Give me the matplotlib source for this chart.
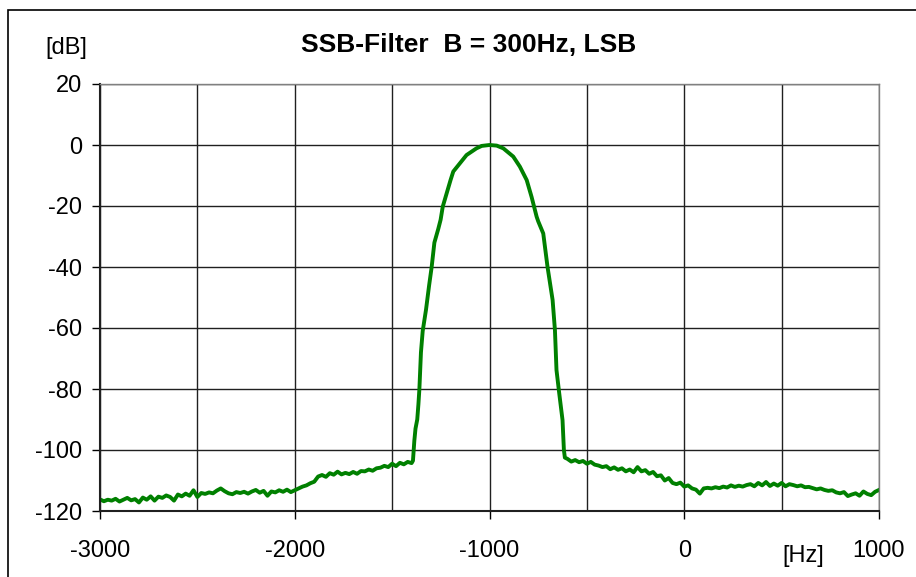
import numpy as np
import matplotlib.pyplot as plt
from matplotlib.patches import Rectangle

plt.rcParams['font.family'] = ['Liberation Sans', 'DejaVu Sans']
plt.rcParams['axes.unicode_minus'] = False

# Rauschboden links (Schritt 20 Hz, -3000 .. -1400)
freq_links = np.arange(-3000, -1399, 20)
pegel_links = [
    -116.2, -116.8, -116.3, -116.6, -116.0, -116.9, -116.3, -115.7, -116.5, -116.1,
    -117.2, -115.6, -116.3, -115.2, -116.6, -115.3, -115.7, -114.9, -115.4, -116.6,
    -114.6, -115.2, -114.3, -115.0, -113.2, -115.4, -114.1, -114.4, -113.9, -114.2,
    -113.3, -112.6, -113.5, -114.2, -114.5, -113.8, -114.1, -113.7, -114.3, -113.6,
    -113.1, -114.0, -113.4, -115.0, -113.6, -113.9, -113.2, -113.7, -113.0, -113.8,
    -113.2, -112.6, -112.0, -111.6, -110.9, -110.4, -108.7, -108.2, -108.8, -107.6,
    -108.1, -107.1, -108.0, -107.5, -107.9, -107.2, -107.8, -106.9, -107.0, -106.4,
    -106.8, -106.0, -105.8, -105.2, -105.6, -104.5, -105.3, -104.2, -104.7, -103.9,
    -104.3,
]

# Durchlassbereich
freq_filter = [-1393, -1390, -1386, -1380, -1371, -1365, -1360, -1352, -1343, -1326,
               -1310, -1297, -1283, -1263, -1251, -1240, -1220, -1200, -1186, -1152,
               -1118, -1067, -1040, -1000, -963, -929, -878, -844, -809, -784,
               -758, -750, -724, -702, -676, -664, -656, -642, -625, -618, -613]
pegel_filter = [-103.5, -100.5, -97, -93, -90, -85, -80, -68, -61, -54,
                -46, -40, -32, -27.5, -24.5, -20.2, -15.8, -11.5, -8.7, -6,
                -3.3, -1.1, -0.3, 0, -0.2, -1.1, -3.8, -7.1, -11.5, -17,
                -23.5, -25, -29, -40, -50.8, -60.7, -73.8, -81.4, -90.2, -100, -102.5]

# Rauschboden rechts (Schritt 20 Hz, -600 .. 1000)
freq_rechts = np.arange(-600, 1001, 20)
pegel_rechts = [
    -102.9, -103.8, -103.3, -104.0, -103.6, -104.5, -103.9, -104.8, -105.1, -105.6,
    -105.3, -106.3, -105.7, -106.5, -106.0, -107.0, -106.4, -107.3, -105.6, -107.0,
    -106.6, -107.8, -107.2, -108.6, -108.3, -110.0, -109.2, -110.8, -111.2, -110.7,
    -112.0, -111.6, -112.6, -113.0, -114.3, -112.6, -112.4, -112.6, -112.2, -112.5,
    -112.0, -112.3, -111.6, -112.1, -111.7, -112.0, -111.5, -111.2, -111.9, -110.8,
    -111.6, -110.5, -111.8, -111.0, -111.7, -110.8, -111.9, -111.2, -111.5, -111.9,
    -111.6, -112.2, -112.1, -112.5, -112.9, -112.6, -113.1, -113.4, -113.2, -113.9,
    -114.2, -113.8, -115.1, -114.6, -114.2, -115.0, -113.6, -114.4, -114.8, -113.7,
    -113.1,
]

freq = np.concatenate([freq_links, freq_filter, freq_rechts])
pegel = np.concatenate([pegel_links, pegel_filter, pegel_rechts])

W, H = 916, 577
fig = plt.figure(figsize=(W / 100, H / 100), dpi=100)
ax = fig.add_axes([100 / W, 1 - 511 / H, 779 / W, 427 / H])

ax.plot(freq, pegel, color='#008000', lw=2.8, solid_joinstyle='round')

ax.set_xlim(-3000, 1000)
ax.set_ylim(-120, 20)
ax.set_xticks(np.arange(-3000, 1001, 1000))
ax.set_xticks(np.arange(-3000, 1001, 500), minor=True)
ax.set_yticks(np.arange(-120, 21, 20))
ax.grid(True, which='both', axis='x', color='#202020', lw=1)
ax.grid(True, which='major', axis='y', color='#202020', lw=1)
ax.tick_params(axis='x', which='minor', length=0)
ax.tick_params(axis='both', which='major', direction='out', length=6, width=1,
               labelsize=17, pad=7)
ax.tick_params(axis='x', which='major', pad=15)
for s in ['top', 'right']:
    ax.spines[s].set_color('#808080')
    ax.spines[s].set_linewidth(1)
for s in ['left', 'bottom']:
    ax.spines[s].set_color('#202020')
    ax.spines[s].set_linewidth(1.5)

fig.text(469 / W, 1 - 45 / H, 'SSB-Filter  B = 300Hz, LSB', ha='center', va='center',
         fontsize=19, fontweight='bold')
fig.text(66 / W, 1 - 48 / H, '[dB]', ha='center', va='center', fontsize=17)
fig.text(803 / W, 1 - 556 / H, '[Hz]', ha='center', va='center', fontsize=17)

# Rahmen um das Diagramm
fig.patches.append(Rectangle((8 / W, -0.1), 1.2, 1 - 10 / H + 0.1,
                             transform=fig.transFigure, fill=False,
                             edgecolor='black', lw=1.2))

fig.savefig('out.png', dpi=100)
